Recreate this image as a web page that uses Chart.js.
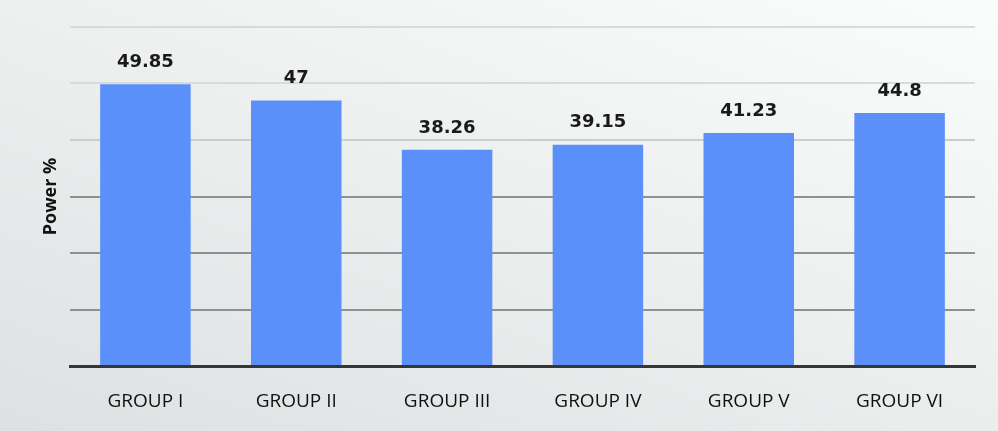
<!DOCTYPE html>
<html>
<head>
<meta charset="utf-8">
<script src="https://cdn.jsdelivr.net/npm/chart.js@4.4.1/dist/chart.umd.min.js"></script>
<style>
  html, body { margin: 0; padding: 0; }
  body {
    width: 998px; height: 431px; overflow: hidden;
    background: linear-gradient(200deg, #fbfcfc 0%, #eef0f0 45%, #dde1e1 100%);
  }
  canvas { display: block; }
</style>
</head>
<body>
<canvas id="chart" width="998" height="431"></canvas>
<script>
const groups = ["GROUP I", "GROUP II", "GROUP III", "GROUP IV", "GROUP V", "GROUP VI"];
const power = [49.85, 47, 38.26, 39.15, 41.23, 44.8];
const powerLabels = ["49.85", "47", "38.26", "39.15", "41.23", "44.8"];
const yMax = 60;
const yStep = 10;

// value labels above each bar
const barLabels = {
  id: "barLabels",
  afterDatasetsDraw(chart) {
    const c = chart.ctx;
    const meta = chart.getDatasetMeta(0);
    c.save();
    c.font = "bold 18px 'DejaVu Sans'";
    c.fillStyle = "#1a1a1a";
    c.textAlign = "center";
    c.textBaseline = "middle";
    meta.data.forEach((bar, i) => {
      c.fillText(powerLabels[i], bar.x, bar.y - 22);
    });
    c.restore();
  }
};

function gridColor(ctx) {
  const v = ctx.tick && ctx.tick.value;
  if (v === 0) return "rgba(0,0,0,0)";
  if (v >= 50) return "#d6dbdb";
  if (v >= 40) return "#c9cece";
  return "#8a9292";
}

const ctx = document.getElementById("chart").getContext("2d");
const chart = new Chart(ctx, {
  type: "bar",
  data: {
    labels: groups,
    datasets: [{
      label: "Power %",
      data: power,
      backgroundColor: "#5b8ff9",
      borderWidth: 0,
      categoryPercentage: 1,
      barPercentage: 0.6
    }]
  },
  options: {
    responsive: false,
    animation: false,
    layout: { padding: { top: 27, right: 23, bottom: 0, left: 0 } },
    plugins: { legend: { display: false }, tooltip: { enabled: false } },
    scales: {
      x: {
        grid: { display: false },
        border: { display: true, color: "#363636", width: 3 },
        ticks: {
          color: "#111",
          padding: 16,
          font: { family: "'Open Sans'", size: 19 }
        },
        afterFit: s => { s.height = 65; }
      },
      y: {
        min: 0,
        max: yMax,
        ticks: { display: false, stepSize: yStep },
        grid: { color: gridColor, lineWidth: 2, drawTicks: false },
        border: { display: false },
        title: {
          display: true,
          text: "Power %",
          color: "#111",
          padding: { top: 40, bottom: 0 },
          font: { family: "'Open Sans'", size: 18, weight: "bold" }
        },
        afterFit: s => { s.width = 70; }
      }
    }
  },
  plugins: [barLabels]
});
</script>
</body>
</html>
